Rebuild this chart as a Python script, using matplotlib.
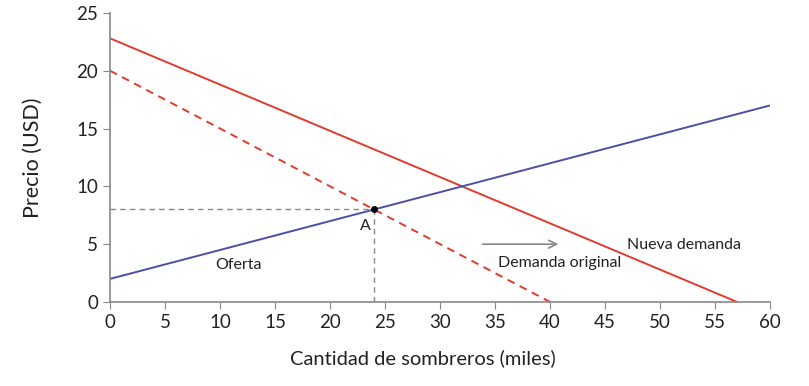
import matplotlib.pyplot as plt

plt.rcParams['font.family'] = ['Lato', 'DejaVu Sans']

# curves (end points)
oferta_x = [0, 60]
oferta_y = [2, 17]
dem_orig_x = [0, 40]
dem_orig_y = [20, 0]
dem_nueva_x = [0, 57]
dem_nueva_y = [22.8, 0]
punto_A = (24, 8)

xticks = list(range(0, 61, 5))
yticks = list(range(0, 26, 5))

red = '#e23b2e'
blue = '#4b4fa6'
gray = '#888888'

fig = plt.figure(figsize=(8.09, 3.86), dpi=100)
ax = fig.add_axes([0.136, 0.2176, 0.816, 0.749])

ax.plot(dem_nueva_x, dem_nueva_y, color=red, lw=1.4)
ax.plot(dem_orig_x, dem_orig_y, color=red, lw=1.4, linestyle=(0, (4, 3)))
ax.plot(oferta_x, oferta_y, color=blue, lw=1.4)

# dashed guides to point A
ax.plot([0, punto_A[0]], [punto_A[1], punto_A[1]], color=gray, lw=1, linestyle=(0, (4, 3)))
ax.plot([punto_A[0], punto_A[0]], [0, punto_A[1]], color=gray, lw=1, linestyle=(0, (4, 3)))
ax.plot(*punto_A, 'o', color='black', markersize=4, zorder=5)

ax.text(23.2, 6.6, 'A', fontsize=11.5, ha='center', va='center', color='#222222')
ax.text(9.6, 3.2, 'Oferta', fontsize=11.5, va='center', color='#222222')
ax.text(35.3, 3.4, 'Demanda original', fontsize=11.5, va='center', color='#222222')
ax.text(47.0, 4.9, 'Nueva demanda', fontsize=11.5, va='center', color='#222222')

ax.annotate('', xy=(41, 5.0), xytext=(33.6, 5.0),
            arrowprops=dict(arrowstyle='->', color=gray, lw=1.2,
                            mutation_scale=14))

ax.set_xlim(0, 60)
ax.set_ylim(0, 25)
ax.set_xticks(xticks)
ax.set_yticks(yticks)
ax.tick_params(colors='#222222', labelsize=13.5, length=5, color=gray)
for s in ['top', 'right']:
    ax.spines[s].set_visible(False)
for s in ['left', 'bottom']:
    ax.spines[s].set_color(gray)
    ax.spines[s].set_linewidth(1.2)

ax.set_xlabel('Cantidad de sombreros (miles)', fontsize=14.5, color='#222222')
ax.set_ylabel('Precio (USD)', fontsize=15.5, color='#222222')
ax.xaxis.set_label_coords(0.474, -0.165)
ax.yaxis.set_label_coords(-0.102, 0.5)

fig.savefig('out.png', dpi=100)
